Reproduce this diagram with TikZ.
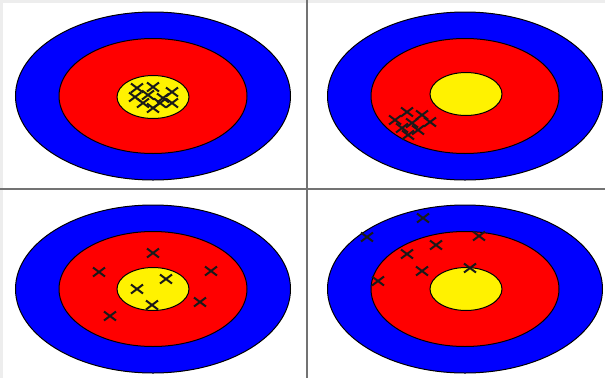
\documentclass[tikz,border=0pt]{standalone}
\begin{document}
\begin{tikzpicture}[x=1pt,y=-1pt,
  ring/.style={draw=black,line width=1pt},
  xmark/.style={draw=black!90,line width=2pt},
  divider/.style={draw=black!55,line width=1.6pt}]
\useasboundingbox (0,0) rectangle (605,378);
\fill[white] (0,0) rectangle (605,378);
\fill[black!7] (0,0) rectangle (605,3);
\fill[black!7] (0,0) rectangle (3,378);
% dividers
\draw[divider] (307,0) -- (307,378);
\draw[divider] (0,189) -- (605,189);
% targets
\foreach \cx/\cy/\yy/\yc in {153/96/153/97, 465/96/466/94, 153/289/153/289, 465/289/466/289}{
  \fill[blue,ring] (\cx,\cy) ellipse[x radius=137.5,y radius=84];
  \fill[red,ring] (\cx,\cy) ellipse[x radius=94,y radius=57.5];
  \fill[yellow,ring] (\yy,\yc) ellipse[x radius=36,y radius=21.5];
}
% crosses
\foreach \x/\y in {137/88,153/87,172/92,135/97,148/95,163/98,143/103,160/103,172/103,153/108,
  407/112,422/115,395/120,412/123,430/122,402/128,418/130,408/135,
  153/253,99/272,211/271,166/279,137/289,200/302,152/305,110/316,
  423/218,367/237,479/236,436/245,407/254,422/271,470/268,378/281}{
  \draw[xmark] (\x-6,\y-4.5) -- (\x+6,\y+4.5) (\x-6,\y+4.5) -- (\x+6,\y-4.5);
}
\end{tikzpicture}
\end{document}
